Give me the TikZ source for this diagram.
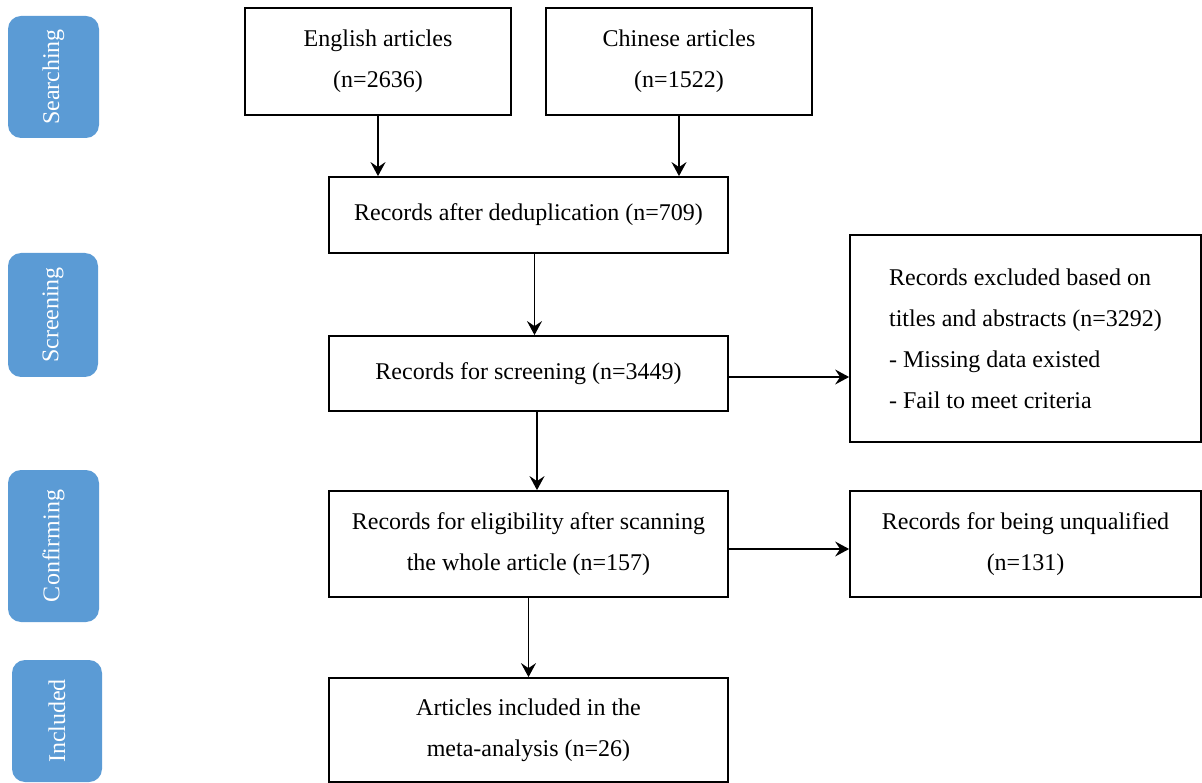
\documentclass[tikz,border=0pt]{standalone}
\usepackage{fontspec}
\setmainfont{Liberation Serif}
\usetikzlibrary{arrows.meta}
\definecolor{stageblue}{HTML}{5B9BD5}
\tikzset{
  box/.style={draw=black, line width=1.8pt, minimum width=399pt, inner sep=0pt,
    align=center, font=\fontsize{24}{41}\selectfont},
  sidebox/.style={draw=black, line width=1.8pt, minimum width=351pt, inner sep=0pt,
    font=\fontsize{24}{41}\selectfont},
  stage/.style={fill=stageblue, rounded corners=13pt, minimum width=91pt, inner sep=0pt,
    text=white, rotate=90, font=\fontsize{24}{28}\selectfont},
  link/.style={line width=1.1pt, -{Stealth[length=14pt,width=15pt,inset=5pt]}}
}
\begin{document}
\begin{tikzpicture}[x=1pt,y=-1pt]
\useasboundingbox (0,0) rectangle (1202,783);
% stage labels
\node[stage, minimum height=91pt, minimum width=122pt] (s1) at (53.5,77) {Searching};
\node[stage, minimum height=90pt, minimum width=124pt] (s2) at (53,315) {Screening};
\node[stage, minimum height=91pt, minimum width=152pt] (s3) at (53.5,546) {Confirming};
\node[stage, minimum height=90pt, minimum width=122pt] (s4) at (57,721) {Included};
% main boxes
\node[box, minimum width=266pt, minimum height=107pt] (eng) at (378,61.5) {English articles\\(n=2636)};
\node[box, minimum width=266pt, minimum height=107pt] (chn) at (679,61.5) {Chinese articles\\(n=1522)};
\node[box, minimum height=76pt] (dedup) at (528.5,215) {Records after deduplication (n=709)};
\node[box, minimum height=75pt] (screen) at (528.5,373.5) {Records for screening (n=3449)};
\node[box, minimum height=106pt] (elig) at (528.5,544) {Records for eligibility after scanning\\the whole article (n=157)};
\node[box, minimum height=104pt] (incl) at (528.5,730) {Articles included in the\\meta-analysis (n=26)};
\node[sidebox, minimum height=207pt, align=left] (excl) at (1025.5,338.5)
  {Records excluded based on\\titles and abstracts (n=3292)\\- Missing data existed\\- Fail to meet criteria};
\node[sidebox, minimum height=106pt, align=center] (unq) at (1025.5,544) {Records for being unqualified\\(n=131)};
% connectors
\draw[link] (eng.south) -- (eng.south |- dedup.north);
\draw[link] (chn.south) -- (chn.south |- dedup.north);
\draw[link] ([xshift=6pt]dedup.south) -- ([xshift=6pt]screen.north);
\draw[link] ([xshift=8.5pt]screen.south) -- ([xshift=8.5pt]elig.north);
\draw[link] (elig.south) -- (incl.north);
\draw[link] ([yshift=-3.5pt]screen.east) -- ([yshift=-3.5pt]screen.east -| excl.west);
\draw[link] ([yshift=-5pt]elig.east) -- ([yshift=-5pt]elig.east -| unq.west);
\end{tikzpicture}
\end{document}
